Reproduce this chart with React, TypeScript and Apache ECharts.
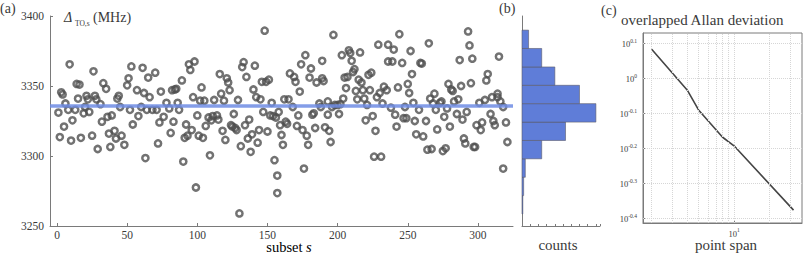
import React, { useEffect, useRef } from "react";
import * as echarts from "echarts";

// ---- panel (a): scatter data (subset index, Δ_TO,s in MHz) ----
const subsetS1 = [1,2,3,4,5,6,8,9,10,11,13,14,15,16,17,19,20,21,22,23,25,26,27,28,29,31,32,33,35,36,37,38,39,41,42,43,44,45,46,48,50,51,52,53,54,57,58,60,61,62,63,64,65,66,68,70,71,72,73,74,76];
const deltaTO1 = [3331,3313.5,3345.5,3344,3321,3337.5,3333,3365.5,3311,3325.5,3333,3351.5,3341,3351,3313,3330.5,3335,3343,3340.5,3331.5,3314.5,3360.5,3343,3340.5,3305,3337,3324.5,3352,3348,3328,3316,3306.5,3329,3318,3312.5,3341,3343,3335,3314.5,3308,3350.5,3355.5,3333,3364,3322.5,3347,3328.5,3335,3363,3345,3298.5,3333,3356,3342,3333,3359.5,3333,3309,3324,3346,3328];
const subsetS2 = [78,80,81,82,83,84,85,86,87,89,90,91,92,93,94,95,96,97,98,99,100,101,102,103,104,105,106,108,109,110,111,112,114,115,116,117,118,119,120,121,122,123,124,125,126,127,128,129,130,131,132,133,134,135,136,137,138,139,140,141,142,143,144,145,146,147,148,149,150,151,152,153,154,155,156,157,157,158,159,160,161,162];
const deltaTO2 = [3338,3334,3316.5,3347,3324.5,3347.5,3348,3338,3333,3354,3296,3313,3322.5,3314.5,3365.5,3361.5,3318.5,3342,3367.5,3277.5,3329,3314.5,3339.5,3349,3313,3339.5,3321.5,3327.5,3300.5,3325.5,3328.5,3340,3329,3326,3358.5,3344.5,3318,3339.5,3311.5,3355.5,3352.5,3347,3322,3321,3330,3320,3318.5,3340,3259,3307,3363.5,3367,3322,3356.5,3312.5,3326,3303,3315.5,3347.5,3364.5,3342,3309.5,3318.5,3340.5,3353,3331.5,3389.5,3353,3317.5,3354.5,3329,3338,3328.5,3297,3327.5,3273.5,3286,3331.5,3322,3315,3308,3340.5];
const subsetS3 = [163,164,165,166,168,169,170,171,172,173,174,175,176,177,178,179,180,181,182,183,184,185,187,188,189,189,190,191,193,193,194,195,196,197,198,200,201,202,203,204,205,206,207,208,209,210,211,212,213,214,215,216,217,218,219,220,221,222,223,224,225,226,227,228,229,230,231,232,233,235,236,236,238,239,240,241,242,243,244];
const deltaTO3 = [3324.5,3323,3340.5,3359,3335,3356.5,3353,3321.5,3329,3346,3365.5,3318.5,3291,3372,3314.5,3308,3356,3362.5,3329.5,3330.5,3320,3352.5,3337.5,3335,3355.5,3368,3353.5,3320.5,3339,3329.5,3318,3310,3335,3386.5,3336.5,3336.5,3330,3337,3372,3341,3356,3348.5,3356.5,3375.5,3373.5,3368,3360,3362,3346.5,3340.5,3354.5,3374,3352.5,3347,3341,3325.5,3336.5,3358,3347,3359.5,3328.5,3299.5,3318,3342,3379.5,3345,3299.5,3337.5,3349.5,3347,3367.5,3379.5,3334.5,3367.5,3376,3329.5,3321,3349,3387];
const subsetS4 = [246,247,248,249,250,251,252,253,254,255,256,258,259,260,261,263,264,265,266,267,268,269,270,271,273,274,275,276,277,278,279,280,281,282,283,285,286,287,288,289,290,291,292,293,294,295,296,297,298,299,301,302,303,305,306,307,309,310,311,312,314,314,315,316,318,318,320,321];
const deltaTO4 = [3366.5,3327,3335,3327,3351.5,3345,3375,3358.5,3338,3325,3315.5,3333,3366.5,3366,3314,3325,3304.5,3380.5,3341,3305,3337.5,3344.5,3333,3319,3338,3339,3303.5,3328,3305.5,3334,3351.5,3321,3347.5,3346.5,3339,3330,3340.5,3368.5,3350,3326,3312.5,3309,3331.5,3389,3379,3352,3369.5,3306.5,3306.5,3322,3338,3318.5,3324,3340,3354,3358.5,3330,3342,3325,3322,3342,3344.5,3371,3339,3335,3291,3324,3310];
const meanDelta = 3335.7;
const xTicksA = [0, 50, 100, 150, 200, 250, 300];

// ---- panel (b): histogram ----
const binEdges = [3258.6, 3271.7, 3284.8, 3298.0, 3311.1, 3324.2, 3337.4, 3350.5, 3363.6, 3376.8, 3389.9];
const binCounts = [1, 2, 4, 24, 53, 90, 70, 40, 24, 8];

// ---- panel (c): overlapped Allan deviation ----
const pointSpan = [2, 4, 5, 8, 10, 32];
const allanDev = [1.208, 0.925, 0.811, 0.678, 0.641, 0.42];
const yExpTicksC = [-0.4, -0.3, -0.2, -0.1, 0, 0.1];
const xGridSpans = [2, 3, 4, 5, 6, 7, 8, 9, 10, 20, 30];

const FONT = "'Liberation Serif', 'DejaVu Serif', serif";
const AX = "#7a7a7a";
const TXT = "#3a3a3a";

export default function App() {
  const ref = useRef<HTMLDivElement>(null);
  useEffect(() => {
    const chart = echarts.init(ref.current!, null, { renderer: "svg" });
    const sArr = [...subsetS1, ...subsetS2, ...subsetS3, ...subsetS4];
    const vArr = [...deltaTO1, ...deltaTO2, ...deltaTO3, ...deltaTO4];
    const scatterData = sArr.map((s, i) => [s, vArr[i]]);
    const histData = binCounts.map((c, i) => [c, binEdges[i], binEdges[i + 1]]);
    const allanData = pointSpan.map((p, i) => [Math.log10(p), Math.log10(allanDev[i])]);
    const fmtExp = (v: number) => (Math.abs(v) < 1e-9 ? "0" : v.toFixed(1));
    const richC = {
      b: { fontSize: 8.5, fontFamily: FONT, color: TXT, lineHeight: 11, verticalAlign: "bottom" },
      s: { fontSize: 5.5, fontFamily: FONT, color: TXT, lineHeight: 11, verticalAlign: "top" },
    };

    const option: any = {
      animation: false,
      textStyle: { fontFamily: FONT },
      grid: [
        { left: 50, top: 16, width: 463, height: 210 },
        { left: 522, top: 16, width: 78, height: 210 },
        { left: 643, top: 33, width: 159, height: 190, show: true, borderColor: AX, borderWidth: 1 },
      ],
      xAxis: [
        {
          type: "value", gridIndex: 0, min: -5, max: 325,
          axisLine: { onZero: false, lineStyle: { color: AX } },
          axisTick: { inside: true, length: 3, lineStyle: { color: AX }, customValues: xTicksA },
          axisLabel: { customValues: xTicksA, color: TXT, fontSize: 11.5, fontFamily: FONT, margin: 3, formatter: (v: number) => String(v) },
          splitLine: { show: false },
        },
        {
          type: "value", gridIndex: 1, min: 0, max: 95, interval: 10,
          axisLine: { onZero: false, lineStyle: { color: AX } },
          axisTick: { inside: true, length: 2, lineStyle: { color: AX } },
          axisLabel: { show: false },
          splitLine: { show: false },
        },
        {
          type: "value", gridIndex: 2, min: 0.2275, max: 1.577,
          axisLine: { onZero: false, lineStyle: { color: AX } },
          axisTick: { inside: true, length: 3, lineStyle: { color: AX }, customValues: [1] },
          axisLabel: {
            customValues: [1], color: TXT, margin: 4,
            formatter: () => "{b|10}{s|1}",
            rich: richC,
          },
          splitLine: { show: false },
        },
      ],
      yAxis: [
        {
          type: "value", gridIndex: 0, min: 3250, max: 3400, interval: 50,
          axisLine: { show: true, onZero: false, lineStyle: { color: AX } },
          axisTick: { show: true, inside: true, length: 3, lineStyle: { color: AX } },
          axisLabel: { color: TXT, fontSize: 11.5, fontFamily: FONT, margin: 6, formatter: (v: number) => String(v) },
          splitLine: { show: false },
        },
        {
          type: "value", gridIndex: 1, min: 3250, max: 3400,
          axisLine: { show: true, onZero: false, lineStyle: { color: AX } },
          axisTick: { show: false },
          axisLabel: { show: false },
          splitLine: { show: false },
        },
        {
          type: "value", gridIndex: 2, min: -0.4134, max: 0.1286,
          axisLine: { show: true, onZero: false, lineStyle: { color: AX } },
          axisTick: { show: true, inside: true, length: 3, lineStyle: { color: AX }, customValues: yExpTicksC },
          axisLabel: {
            customValues: yExpTicksC, margin: 6,
            formatter: (v: number) => `{b|10}{s|${fmtExp(v)}}`,
            rich: richC,
          },
          splitLine: { show: false },
        },
      ],
      series: [
        {
          type: "scatter", xAxisIndex: 0, yAxisIndex: 0, data: scatterData,
          symbol: "circle", symbolSize: 6.2, z: 2,
          itemStyle: { color: "rgba(255,255,255,0)", borderColor: "#4f4f4f", borderWidth: 2.5 },
        },
        {
          type: "line", xAxisIndex: 0, yAxisIndex: 0, z: 3, symbol: "none",
          data: [[-5, meanDelta], [325, meanDelta]],
          lineStyle: { color: "rgba(110,140,228,0.85)", width: 3.5 },
        },
        {
          type: "custom", xAxisIndex: 1, yAxisIndex: 1, data: histData,
          encode: { x: 0, y: [1, 2] },
          renderItem: (params: any, api: any) => {
            const p0 = api.coord([0, api.value(1)]);
            const p1 = api.coord([api.value(0), api.value(2)]);
            return {
              type: "rect",
              shape: { x: p0[0], y: p1[1], width: p1[0] - p0[0], height: p0[1] - p1[1] },
              style: { fill: "#5f7dd8", stroke: "#5a5a6a", lineWidth: 0.6 },
            };
          },
        },
        {
          type: "line", xAxisIndex: 2, yAxisIndex: 2, data: allanData, symbol: "none", z: 3,
          lineStyle: { color: "#454545", width: 1.6 },
          markLine: {
            silent: true, symbol: ["none", "none"], label: { show: false },
            lineStyle: { type: "dotted", color: "#d6d6d6", width: 1 },
            data: [
              ...xGridSpans.map((v) => ({ xAxis: Math.log10(v) })),
              ...yExpTicksC.map((v) => ({ yAxis: v })),
            ],
          },
        },
      ],
      graphic: [
        { type: "text", x: 0, y: 8, style: { text: "(a)", fontSize: 14, fontFamily: FONT, fill: TXT, verticalAlign: "middle", textVerticalAlign: "middle" } },
        { type: "text", x: 499, y: 8, style: { text: "(b)", fontSize: 14, fontFamily: FONT, fill: TXT, verticalAlign: "middle", textVerticalAlign: "middle" } },
        { type: "text", x: 601, y: 10, style: { text: "(c)", fontSize: 14, fontFamily: FONT, fill: TXT, verticalAlign: "middle", textVerticalAlign: "middle" } },
        { type: "text", x: 64, y: 17, style: { text: "Δ", fontSize: 14, fontStyle: "italic", fontFamily: FONT, fill: TXT, verticalAlign: "middle", textVerticalAlign: "middle" } },
        { type: "text", x: 75, y: 23, style: { text: "TO,s", fontSize: 7.5, fontFamily: FONT, fill: TXT, verticalAlign: "middle", textVerticalAlign: "middle" } },
        { type: "text", x: 93, y: 17, style: { text: "(MHz)", fontSize: 14, fontFamily: FONT, fill: TXT, verticalAlign: "middle", textVerticalAlign: "middle" } },
        {
          type: "text", x: 289, y: 247,
          style: {
            text: "{n|subset }{i|s}", align: "center", textAlign: "center", verticalAlign: "middle", textVerticalAlign: "middle",
            rich: {
              n: { fontSize: 14.5, fontFamily: FONT, color: TXT },
              i: { fontSize: 14.5, fontFamily: FONT, color: TXT, fontStyle: "italic" },
            },
          },
        },
        { type: "text", x: 558, y: 245, style: { text: "counts", fontSize: 15, fontFamily: FONT, fill: TXT, align: "center", textAlign: "center", verticalAlign: "middle", textVerticalAlign: "middle" } },
        { type: "text", x: 621, y: 20, style: { text: "overlapped Allan deviation", fontSize: 15, fontFamily: FONT, fill: TXT, verticalAlign: "middle", textVerticalAlign: "middle" } },
        { type: "text", x: 726, y: 245, style: { text: "point span", fontSize: 15, fontFamily: FONT, fill: TXT, align: "center", textAlign: "center", verticalAlign: "middle", textVerticalAlign: "middle" } },
      ],
    };
    chart.setOption(option);
    return () => chart.dispose();
  }, []);
  return <div ref={ref} style={{ position: "absolute", left: 0, top: 0, width: 806, height: 255 }} />;
}
